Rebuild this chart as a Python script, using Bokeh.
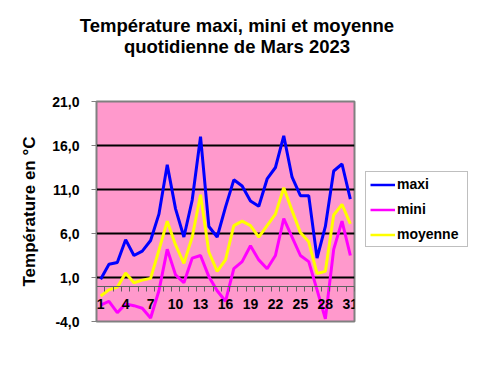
from bokeh.plotting import figure
from bokeh.models import Range1d, FixedTicker, Legend, LegendItem, Div
from bokeh.layouts import column, row
from bokeh.embed import file_html
from bokeh.resources import INLINE

# ---- data ----
days = list(range(1, 32))
maxi = [0.8, 2.5, 2.7, 5.3, 3.5, 4.0, 5.2, 8.2, 13.8, 8.8, 5.6, 9.8, 17.0, 6.8, 5.6, 9.0,
        12.1, 11.4, 9.7, 9.1, 12.2, 13.5, 17.1, 12.4, 10.3, 10.3, 3.2, 6.8, 13.1, 13.9, 9.9]
mini = [-2.15, -1.7, -3.0, -2.0, -2.2, -2.5, -3.6, -0.5, 4.2, 1.3, 0.4, 3.2, 3.5, 1.1, -0.5, -1.7,
        2.0, 2.8, 4.6, 3.0, 2.0, 3.5, 7.7, 5.6, 3.5, 2.8, -0.4, -3.7, 4.2, 7.4, 3.5]
moyenne = [-1.1, -0.4, -0.1, 1.5, 0.4, 0.7, 0.9, 4.1, 7.4, 4.7, 2.6, 5.6, 10.4, 3.9, 1.7, 3.0,
           6.9, 7.4, 6.9, 5.6, 6.9, 8.2, 11.2, 8.6, 6.1, 5.05, 1.45, 1.7, 8.1, 9.3, 7.1]
series_names = ["maxi", "mini", "moyenne"]
y_ticks = [-4, 1, 6, 11, 16, 21]
grid_ticks = [1, 6, 11, 16]
x_label_days = [1, 4, 7, 10, 13, 16, 19, 22, 25, 28, 31]
title_lines = ["Température maxi, mini et moyenne", "quotidienne de Mars 2023"]
y_title = "Température en °C"

FONT = "Liberation Sans"
TITLE_H = 64
PLOT_H = 359 - TITLE_H
colors = ["#0000FF", "#FF00FF", "#FFFF00"]
series = [maxi, mini, moyenne]

title_div = Div(
    text=('<div style="display:block; box-sizing:border-box; width:470px; text-align:center; '
          'padding-left:4px; padding-top:14.5px; '
          'font-family:\'Liberation Sans\'; font-weight:bold; font-size:18.5px; '
          'line-height:21.6px; color:black;">' + "<br>".join(title_lines) + "</div>"),
    width=470, height=TITLE_H, margin=0)

p = figure(width=358, height=PLOT_H, output_backend="svg", toolbar_location=None,
           x_range=Range1d(0.5, 31.5), y_range=Range1d(-4, 21),
           min_border_left=96, min_border_right=4, min_border_top=101 - TITLE_H,
           min_border_bottom=38, margin=0)
p.background_fill_color = "#FF99CC"
p.border_fill_color = "white"
p.outline_line_color = "#808080"
p.outline_line_width = 2

# grid
p.xgrid.visible = False
p.ygrid.ticker = FixedTicker(ticks=grid_ticks)
p.ygrid.grid_line_color = "black"
p.ygrid.grid_line_width = 2

# y axis
ya = p.yaxis[0]
ya.ticker = FixedTicker(ticks=y_ticks)
ya.major_label_overrides = {t: f"{t:.1f}".replace(".", ",") for t in y_ticks}
ya.major_label_text_font = FONT
ya.major_label_text_font_style = "bold"
ya.major_label_text_font_size = "14px"
ya.major_label_text_color = "black"
ya.major_label_standoff = 12
ya.major_tick_out = 5
ya.major_tick_in = 0
ya.major_tick_line_color = "#808080"
ya.minor_tick_line_color = None
ya.axis_line_color = "#808080"
ya.axis_label = y_title
ya.axis_label_text_font = FONT
ya.axis_label_text_font_style = "bold"
ya.axis_label_text_font_size = "17px"
ya.axis_label_text_color = "black"
ya.axis_label_standoff = 10

# x axis, crossing at 0
xa = p.xaxis[0]
xa.fixed_location = 0
xa.ticker = FixedTicker(ticks=x_label_days, minor_ticks=[d - 0.5 for d in days] + [days[-1] + 0.5])
xa.major_tick_out = 5
xa.major_tick_in = 0
xa.major_tick_line_color = None
xa.minor_tick_out = 5
xa.minor_tick_in = 0
xa.minor_tick_line_color = "#606060"
xa.axis_line_color = "#606060"
xa.major_label_text_font = FONT
xa.major_label_text_font_style = "bold"
xa.major_label_text_font_size = "14px"
xa.major_label_text_color = "black"
xa.major_label_standoff = 8

for ys, c in zip(series, colors):
    p.line(days, ys, line_color=c, line_width=3)

# legend panel (separate figure to the right of the chart; its series lie outside its view)
pl = figure(width=470 - 358, height=PLOT_H, output_backend="svg", toolbar_location=None,
            x_range=Range1d(-10, -9), y_range=p.y_range,
            x_axis_type=None, y_axis_type=None, min_border=0, margin=0)
pl.outline_line_color = None
pl.grid.visible = False
pl.background_fill_color = "white"
pl.border_fill_color = "white"
leg_renderers = [pl.line(days, ys, line_color=c, line_width=2.5) for ys, c in zip(series, colors)]
legend = Legend(items=[LegendItem(label=n, renderers=[r]) for n, r in zip(series_names, leg_renderers)],
                location=(7, 74), margin=0, padding=4, spacing=9,
                label_height=13, glyph_height=13, glyph_width=25, label_standoff=2, label_width=66,
                label_text_font=FONT, label_text_font_style="bold", label_text_font_size="14px",
                label_text_color="black",
                border_line_color="#808080", border_line_width=1, background_fill_color="white",
                background_fill_alpha=1)
pl.add_layout(legend)

layout = column(title_div, row(p, pl, spacing=0, margin=0), spacing=0, margin=0)
open("out.html", "w").write(file_html(layout, INLINE))
